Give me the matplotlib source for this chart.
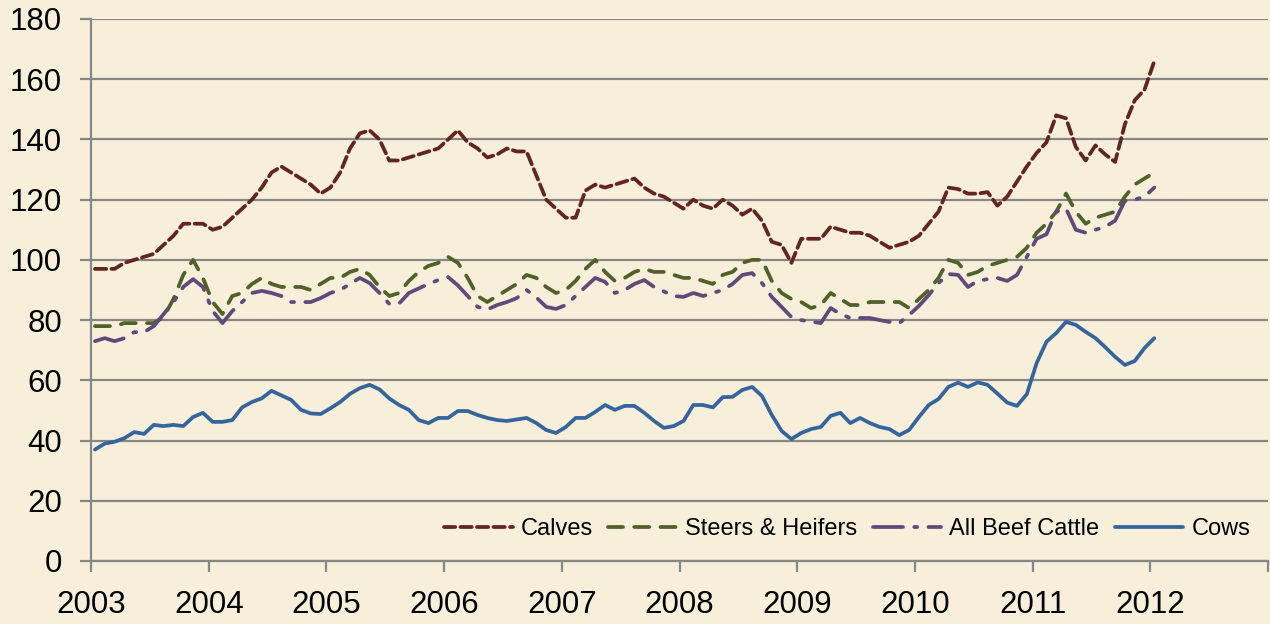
import matplotlib
matplotlib.use("Agg")
import matplotlib.pyplot as plt
import numpy as np

plt.rcParams['font.family'] = ['Liberation Sans', 'DejaVu Sans']

# monthly index prices, Jan 2003 - Jan 2012
start_year = 2003
calves = [97, 97, 97, 99, 100, 101, 102, 105, 108, 112, 112, 112,
          110, 111, 114, 117, 120, 124, 129, 131, 129, 127, 125, 122,
          124, 129, 137, 142, 143, 140, 133, 133, 134, 135, 136, 137,
          140, 143, 139, 137, 134, 135, 137, 136, 136, 128, 120, 117,
          114, 114, 123, 125, 124, 125, 126, 127, 124, 122, 121, 119,
          117, 120, 118, 117, 120, 118, 115, 117, 113, 106, 105, 99,
          107, 107, 107, 111, 110, 109, 109, 108, 106, 104, 105, 106,
          108, 112, 116, 124, 123.5, 122, 122, 122.5, 118, 121, 126, 131,
          135.5, 139, 148, 147, 137.5, 133, 138, 135, 132.5, 145, 153, 156.5,
          166]
steers_heifers = [78, 78, 78, 79, 79, 79, 79, 81, 87, 95, 100, 94,
                  86, 82, 88, 89, 92, 94, 92, 91, 91, 91, 90, 92,
                  94, 94, 96, 97, 95, 91, 88, 89, 93, 96, 98, 99,
                  101, 99, 94, 88, 86, 88, 90, 92, 95, 94, 91, 89,
                  90, 93, 97, 100, 96, 93, 94, 96, 97, 96, 96, 95,
                  94, 94, 93, 92, 95, 96, 99, 100, 100, 93, 89, 87,
                  86, 84, 85, 89, 87, 85, 85, 86, 86, 86, 86, 84,
                  87, 90, 94, 100, 99, 95, 96, 98, 99, 100, 101, 104,
                  109, 112, 116, 122, 116, 112, 114, 115, 116, 121, 125, 127,
                  129]
all_beef = [73, 74, 73, 74, 76, 76, 78, 82, 86, 91, 93.6, 91,
            83, 79, 83, 86, 89, 89.7, 89, 88, 86, 86, 86, 87.3,
            89, 90, 92, 94, 92.3, 89, 85.4, 85.5, 89, 90.5, 92, 93.3,
            94.3, 91.5, 88, 84.4, 83.5, 85, 86, 87.3, 90, 87.5, 84.4, 83.7,
            85, 88, 91, 94, 92.7, 89, 90, 92, 93.3, 91, 89.5, 88,
            87.7, 89, 88, 89, 90, 92, 95, 95.6, 92.3, 87.7, 84.4, 81,
            80, 79.5, 79, 84, 82, 80.7, 80.7, 80.7, 80, 79.4, 79, 81.7,
            84.7, 88.3, 92.3, 95.3, 95, 91, 93, 93.6, 94, 93, 95, 101,
            107, 108.5, 116, 117, 110, 109, 110, 111, 113, 119.6, 120, 121,
            124]
cows = [37, 39, 39.6, 40.8, 42.8, 42.2, 45.2, 44.8, 45.2, 44.8, 47.8, 49.2,
        46.2, 46.2, 46.8, 51, 52.8, 54, 56.5, 55, 53.5, 50.2, 49, 48.8,
        50.7, 52.8, 55.5, 57.4, 58.5, 57, 54, 51.8, 50.2, 46.8, 45.8, 47.5,
        47.5, 49.8, 49.8, 48.5, 47.5, 46.8, 46.5, 47, 47.5, 45.8, 43.5, 42.5,
        44.5, 47.5, 47.5, 49.5, 51.8, 50.2, 51.5, 51.5, 49.2, 46.5, 44.2, 44.8,
        46.5, 51.8, 51.8, 51, 54.4, 54.5, 56.8, 57.8, 54.8, 48.5, 43.2, 40.5,
        42.5, 43.8, 44.5, 48.2, 49.2, 45.8, 47.5, 45.8, 44.5, 43.8, 41.8, 43.5,
        47.8, 51.8, 53.8, 57.8, 59.2, 57.8, 59.3, 58.5, 55.6, 52.6, 51.5, 55.4,
        65.7, 72.8, 75.7, 79.4, 78.4, 76.1, 74, 71, 67.8, 65.1, 66.4, 70.7,
        74]
year_ticks = list(range(2003, 2014))
year_labels = ['2003', '2004', '2005', '2006', '2007', '2008',
               '2009', '2010', '2011', '2012', '']
y_ticks = list(range(0, 181, 20))

bg = '#F7EFD9'
grid_c = '#878787'

months = np.arange(len(calves))
x = start_year + (months + 0.4) / 12.0

fig = plt.figure(figsize=(12.7, 6.24), dpi=100, facecolor=bg)
ax = fig.add_axes([0.0717, 0.101, 0.9268, 0.8686], facecolor=bg)

lw = 2.7
ax.plot(x, calves, color='#632523', lw=lw, dashes=(3, 1.4),
        dash_capstyle='round', label='Calves', zorder=3)
ax.plot(x, steers_heifers, color='#4F6228', lw=lw, dashes=(4, 3),
        dash_capstyle='round', label='Steers & Heifers', zorder=3)
ax.plot(x, all_beef, color='#604A7B', lw=lw, dashes=(8, 3, 0.8, 3),
        dash_capstyle='round', label='All Beef Cattle', zorder=3)
ax.plot(x, cows, color='#35659E', lw=lw, solid_capstyle='round',
        label='Cows', zorder=3)

ax.set_xlim(2003, 2013)
ax.set_ylim(0, 180)
ax.set_xticks(year_ticks)
ax.set_xticklabels(year_labels)
ax.set_yticks(y_ticks)

ax.yaxis.grid(True, color=grid_c, lw=1.6)
ax.set_axisbelow(True)
for s in ['top', 'right']:
    ax.spines[s].set_visible(False)
for s in ['left', 'bottom']:
    ax.spines[s].set_color(grid_c)
    ax.spines[s].set_linewidth(1.6)

ax.tick_params(axis='both', colors=grid_c, width=1.6, length=8,
               labelcolor='black', labelsize=22.5)
ax.tick_params(axis='y', pad=13)
ax.tick_params(axis='x', pad=13)

ax.legend(loc='center right', bbox_to_anchor=(0.985, 0.059), ncol=4,
          frameon=False, fontsize=17, handlelength=2.9,
          handletextpad=0.35, columnspacing=0.65, borderpad=0,
          borderaxespad=0)

fig.savefig('out.png', dpi=100, facecolor=bg)
